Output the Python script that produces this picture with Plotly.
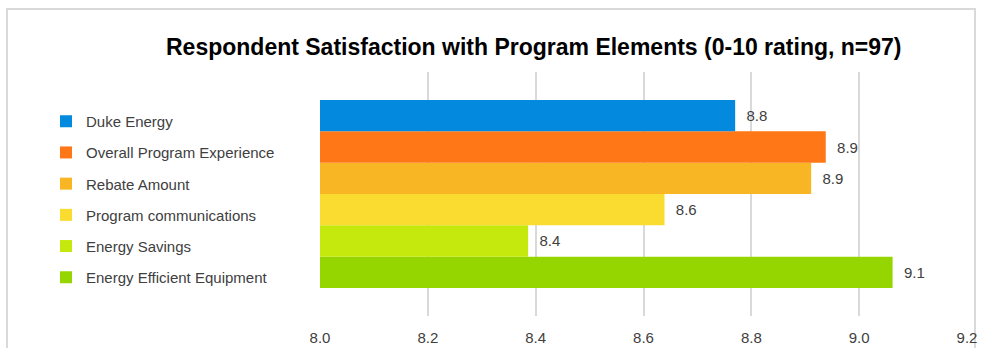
import plotly.graph_objects as go

# Satisfaction scores by program element (0-10 scale)
elements = [
    "Duke Energy",
    "Overall Program Experience",
    "Rebate Amount",
    "Program communications",
    "Energy Savings",
    "Energy Efficient Equipment",
]
scores = [8.77, 8.938, 8.911, 8.639, 8.386, 9.062]
colors = ["#038ADF", "#FF7716", "#F8B624", "#FADB30", "#C5E90C", "#95D600"]
tick_vals = [8.0, 8.2, 8.4, 8.6, 8.8, 9.0, 9.2]
tick_text = ["8.0", "8.2", "8.4", "8.6", "8.8", "9.0", "9.2"]

FONT = "Liberation Sans, Arial, sans-serif"

fig = go.Figure()
# horizontal grouped bars stack upward, so add in reverse to keep the first element on top
entries = list(enumerate(zip(elements, scores, colors)))
for rank, (name, val, col) in reversed(entries):
    fig.add_trace(go.Bar(
        x=[val], y=["all"], orientation="h", name=name,
        marker=dict(color=col, line=dict(width=0)),
        base=0,
        texttemplate="  %{x:.1f}", textposition="outside",
        textfont=dict(family=FONT, size=15, color="#404040"),
        cliponaxis=False, legendgroup=name, legendrank=rank + 1,
    ))

fig.update_layout(
    width=983, height=348,
    margin=dict(l=320, r=16, t=72, b=32, autoexpand=False),
    paper_bgcolor="white", plot_bgcolor="white",
    barmode="group", bargap=0.23, bargroupgap=0,
    font=dict(family=FONT, size=15, color="#404040"),
    title=dict(
        text="<b>Respondent Satisfaction with Program Elements (0-10 rating, n=97)</b>",
        font=dict(family=FONT, size=23, color="black"),
        xref="container", x=0.543, xanchor="center",
        yref="container", y=1 - 47 / 348, yanchor="middle",
    ),
    legend=dict(
        traceorder="grouped",
        tracegroupgap=8.7,
        xref="container", yref="container",
        x=46 / 983, xanchor="left",
        y=1 - 105 / 348, yanchor="top",
        maxheight=320,
        font=dict(family=FONT, size=15, color="#404040"),
        itemwidth=30,
    ),
    showlegend=True,
)
fig.update_xaxes(
    range=[8.0, 9.2], tickvals=tick_vals, ticktext=tick_text,
    showgrid=True, gridcolor="#D9D9D9", gridwidth=2,
    zeroline=False, showline=False, automargin=False,
    ticks="outside", ticklen=8, tickcolor="rgba(0,0,0,0)",
    tickfont=dict(family=FONT, size=15, color="#404040"),
)
fig.update_yaxes(range=[-0.5, 0.5], showticklabels=False, showgrid=False,
                 zeroline=False, showline=False, automargin=False)

# outer chart frame
fig.add_shape(type="rect", xref="paper", yref="paper",
              x0=-313 / 647, x1=655 / 647, y0=-0.2, y1=(348 - 9 - 32) / 244,
              line=dict(color="#D9D9D9", width=2), layer="below")

fig.write_html("out.html")
